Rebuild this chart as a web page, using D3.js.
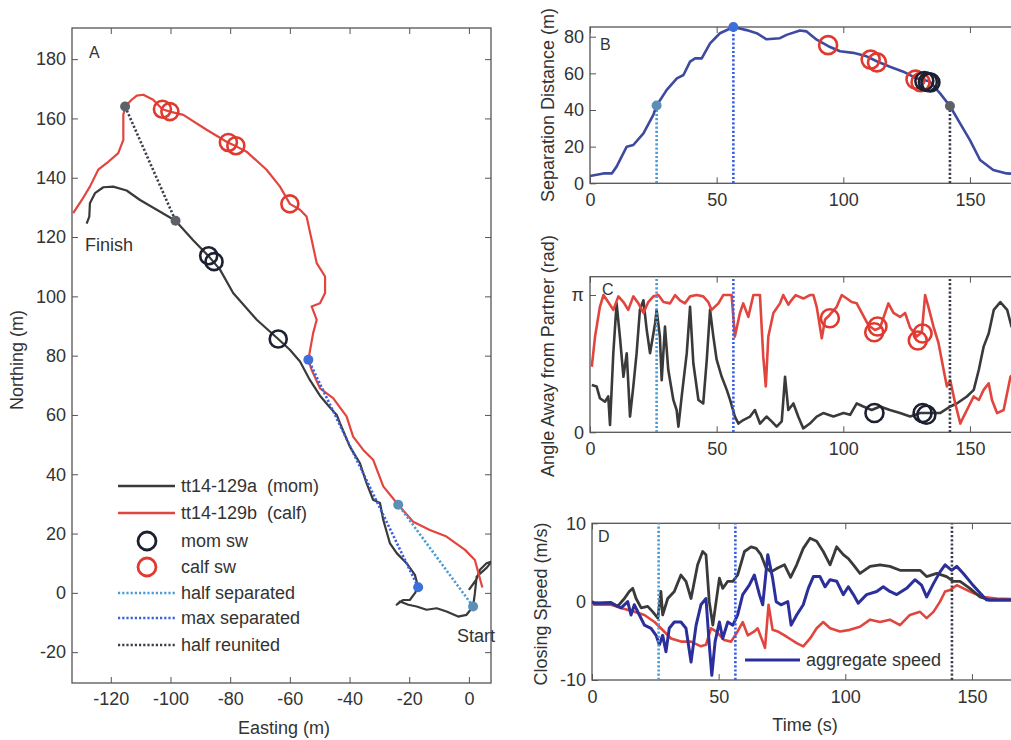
<!DOCTYPE html>
<html><head><meta charset="utf-8">
<script src="https://cdn.jsdelivr.net/npm/d3@7"></script>
<style>
html,body{margin:0;padding:0;background:#fff;}
text{font-family:"Liberation Sans",Arial,Helvetica,sans-serif;fill:#333;}
</style></head>
<body><svg id="c" width="1011" height="740"></svg>
<script>
// ---------- Panel A: tracks (easting, northing) ----------
const momTrack = [[0.0,1.0],[2.5,4.5],[3.7,7.8],[5.9,10.0],[7.6,10.6],[6.0,8.5],[2.6,5.5],[2.0,-0.1],[1.4,-4.6],[-0.8,-7.4],[-3.6,-8.0],[-7.5,-6.3],[-10.8,-5.2],[-14.2,-5.7],[-17.5,-4.6],[-20.3,-4.0],[-23.1,-2.9],[-24.2,-4.0],[-22.0,-2.4],[-19.8,-2.4],[-18.1,-0.1],[-17.0,1.9],[-18.1,6.1],[-20.9,10.0],[-24.2,13.4],[-26.5,16.8],[-28.7,24.6],[-29.8,30.3],[-32.1,31.4],[-34.3,37.0],[-36.5,43.7],[-39.9,49.3],[-43.2,57.2],[-44.3,60.0],[-47.0,63.0],[-49.9,66.5],[-53.3,71.8],[-56.6,78.0],[-60.0,82.0],[-63.9,85.6],[-71.1,92.1],[-79.0,101.1],[-83.4,109.0],[-87.1,113.4],[-92.4,118.9],[-98.3,125.5],[-104.6,129.2],[-110.2,132.5],[-114.7,135.7],[-119.2,137.0],[-122.5,136.8],[-125.3,134.8],[-127.0,131.4],[-127.2,126.9],[-128.1,124.5]];
const calfTrack = [[4.5,1.8],[2.0,11.1],[-1.3,14.5],[-7.5,19.0],[-13.1,21.2],[-18.7,24.0],[-23.7,29.7],[-28.7,35.9],[-32.1,44.9],[-35.4,48.2],[-38.8,52.7],[-41.0,59.5],[-45.5,65.7],[-49.9,69.0],[-52.7,75.2],[-53.8,78.6],[-52.2,87.6],[-51.0,92.1],[-52.7,96.6],[-49.9,97.7],[-48.2,101.1],[-48.2,106.7],[-51.0,111.2],[-52.7,119.1],[-54.4,126.9],[-56.6,129.2],[-60.0,131.2],[-63.3,137.0],[-67.8,142.7],[-74.5,148.8],[-77.8,150.5],[-80.8,151.9],[-87.9,156.2],[-95.7,161.2],[-100.2,162.3],[-102.7,163.1],[-105.8,166.3],[-109.1,168.0],[-111.3,167.7],[-113.0,166.3],[-115.2,164.0],[-115.8,161.2],[-115.8,152.8],[-117.5,148.3],[-121.4,144.9],[-124.2,142.7],[-127.0,137.0],[-129.7,132.5],[-132.6,128.1]];
const momSwA = [[-63.9,85.6],[-87.2,113.7],[-85.4,111.7]];
const calfSwA = [[-60.0,131.2],[-78.1,150.8],[-80.6,151.9],[-102.7,163.1],[-100.2,162.3]];
const halfSepA = [[1.4,-4.6],[-23.7,29.7]];
const maxSepA = [[-17.0,1.9],[-53.8,78.6]];
const halfReuA = [[-115.2,164.0],[-98.3,125.5]];
const eastTicks = [-120,-100,-80,-60,-40,-20,0];
const northTicks = [-20,0,20,40,60,80,100,120,140,160,180];
const legendLabels = ["tt14-129a  (mom)","tt14-129b  (calf)","mom sw","calf sw","half separated","max separated","half reunited"];

// ---------- Panel B: separation distance (time s, m) ----------
const sepDist = [[0,4.0],[5.3,5.4],[8.6,5.4],[10.5,9.1],[14.5,20.0],[17.1,20.9],[21.1,27.3],[25.0,37.3],[26.3,42.5],[30.3,51.0],[34.3,57.3],[36.9,59.1],[39.5,66.4],[41.5,68.2],[44.1,68.2],[47.4,76.4],[51.3,81.9],[56.6,85.3],[61.8,83.6],[65.8,81.9],[69.7,78.6],[75.0,79.2],[77.6,81.0],[82.9,83.4],[85.5,82.9],[89.5,78.4],[94.1,74.8],[98.7,72.1],[103.9,71.2],[109.2,69.3],[113.2,66.6],[118.4,63.6],[123.7,60.9],[128.9,57.3],[134.2,55.5],[138.2,49.1],[142.1,42.2],[146.1,32.7],[150.0,23.6],[154.0,12.7],[159.2,7.3],[164.5,5.4],[170,5.0]];
const calfSwB = [[94.0,75.4],[110.8,67.5],[113.3,66.0],[128.5,56.6],[130.5,55.2]];
const momSwB = [[132.0,55.8],[133.4,55.3],[134.4,55.0]];
const eventTimes = [26.3,56.6,142.1];          // half separated, max separated, half reunited
const eventSep = [42.5,85.3,42.2];
const timeTicks = [0,50,100,150];
const sepTicks = [0,20,40,60,80];

// ---------- Panel C: angle away from partner (time s, rad) ----------
const calfAngle = [[0.7,1.50],[2.0,2.19],[3.9,2.87],[5.3,3.14],[7.2,2.98],[9.2,2.80],[11.2,3.11],[13.2,2.98],[15.1,2.80],[17.1,3.11],[19.1,2.95],[21.1,2.73],[23.0,2.98],[25.0,3.11],[27.0,3.14],[29.0,2.98],[31.6,2.95],[33.6,3.14],[35.5,3.02],[37.5,2.95],[39.5,3.11],[42.1,3.14],[44.7,3.11],[46.7,2.98],[48.0,2.80],[50.7,2.95],[52.6,3.14],[55.9,3.14],[57.2,2.19],[59.2,2.73],[60.5,2.95],[62.5,2.64],[64.5,3.14],[67.1,3.14],[68.4,1.73],[69.4,1.05],[70.4,2.19],[72.4,2.73],[75.0,2.95],[76.3,3.14],[78.3,2.92],[79.5,3.02],[81.2,3.14],[84.2,3.06],[86.8,3.14],[88.2,3.14],[89.5,2.87],[91.5,2.15],[92.8,2.58],[94.7,2.69],[97.4,2.87],[99.4,3.14],[101.4,3.06],[103.3,2.98],[105.3,2.95],[107.3,2.73],[109.9,2.45],[112.5,2.34],[114.5,2.39],[116.5,2.73],[117.8,2.95],[119.8,2.73],[122.4,2.64],[124.4,2.73],[126.4,2.39],[129.0,2.19],[131.0,2.29],[132.3,3.14],[133.6,2.87],[135.6,2.42],[137.6,2.04],[139.6,1.43],[140.9,1.05],[142.2,1.19],[144.2,0.66],[146.2,0.20],[147.5,0.36],[149.5,0.59],[151.5,0.82],[153.5,0.74],[155.4,0.97],[157.4,1.12],[158.7,0.74],[160.7,0.44],[163.3,0.51],[166.0,1.27],[170,1.5]];
const momAngle = [[0.7,1.08],[2.6,1.05],[3.9,0.78],[5.9,0.70],[7.2,0.82],[7.9,0.17],[9.2,1.81],[10.5,2.95],[11.8,2.19],[13.2,1.27],[14.5,1.81],[15.8,0.36],[17.1,1.05],[18.4,1.81],[19.7,2.80],[21.1,3.02],[22.4,2.34],[23.7,1.81],[25.7,2.49],[26.3,2.80],[27.6,2.19],[28.3,1.19],[29.6,2.42],[30.9,1.43],[32.9,0.74],[34.2,0.51],[34.9,0.13],[36.2,0.82],[38.2,1.81],[39.5,2.87],[40.8,1.58],[42.8,0.74],[44.7,0.66],[46.1,1.66],[47.4,2.80],[48.7,2.19],[50.0,1.66],[52.0,1.27],[54.0,0.97],[55.3,0.74],[57.2,0.36],[58.6,0.20],[60.5,0.28],[63.2,0.36],[65.1,0.51],[67.1,0.20],[69.7,0.36],[71.7,0.25],[73.7,0.13],[75.7,0.25],[77.0,1.27],[78.3,0.51],[80.3,0.66],[82.2,0.36],[84.2,0.09],[86.8,0.20],[89.5,0.36],[92.1,0.44],[96.1,0.36],[100.1,0.44],[102.7,0.40],[105.3,0.66],[107.9,0.59],[111.2,0.51],[114.5,0.59],[118.4,0.51],[122.4,0.44],[126.4,0.36],[130.3,0.44],[134.2,0.44],[138.2,0.44],[142.2,0.59],[144.8,0.66],[148.8,0.82],[151.5,0.97],[153.5,1.43],[155.4,1.96],[157.4,2.26],[159.4,2.80],[162.0,2.98],[164.7,2.80],[166.4,2.42],[170,2.6]];
const calfSwC = [[94.7,2.61],[112.2,2.29],[113.5,2.42],[129.4,2.10],[131.3,2.26]];
const momSwC = [[112.3,0.44],[131.3,0.44],[132.8,0.40]];
const angleTicks = [0,Math.PI];
const angleTickLabels = ["0","π"];

// ---------- Panel D: closing speed (time s, m/s) ----------
const momSpeed = [[0,0],[0.9,-0.2],[7.5,-0.1],[10.1,-0.6],[12.8,0.4],[14.7,1.3],[16.1,1.7],[17.4,0.4],[19.4,-0.8],[22.0,-0.6],[24.0,-1.3],[26.0,-2.1],[27.2,1.3],[27.9,-1.7],[29.9,0.4],[32.5,1.3],[35.1,3.4],[37.1,2.6],[39.1,0.4],[41.7,4.7],[43.7,6.4],[45.0,6.0],[46.3,0.0],[47.7,-3.0],[49.0,0.0],[50.3,3.0],[51.6,1.7],[53.6,2.6],[55.6,2.6],[57.5,3.4],[60.2,6.4],[62.8,7.0],[64.8,6.8],[66.7,6.0],[68.7,4.3],[70.7,3.8],[73.3,4.3],[76.0,4.7],[78.4,3.1],[80.8,4.7],[83.4,6.8],[86.1,8.1],[88.7,7.7],[91.3,6.4],[94.0,4.7],[96.6,7.0],[99.2,6.0],[101.2,5.5],[103.2,4.7],[105.8,3.6],[109.8,4.5],[113.7,4.7],[117.6,4.5],[121.6,4.0],[125.5,4.0],[129.5,4.0],[132.1,3.2],[136.1,3.6],[140.0,3.2],[142.7,2.6],[145.3,2.6],[149.2,1.7],[153.2,0.6],[157.1,0.2],[170,0.2]];
const calfSpeed = [[0,0],[0.9,-0.4],[7.5,-0.4],[11.5,-0.8],[16.7,-1.3],[20.7,-1.7],[24.7,-2.6],[27.2,-3.4],[31.2,-4.7],[35.1,-5.1],[39.1,-5.1],[43.0,-5.7],[45.0,-5.5],[47.0,-3.4],[49.0,-3.8],[52.2,-4.9],[54.9,-5.1],[57.5,-3.8],[59.5,-2.6],[61.5,-4.3],[64.1,-3.8],[65.4,-3.4],[67.4,-5.1],[68.3,-5.9],[69.7,-0.4],[71.3,-3.6],[73.3,-3.8],[76.0,-4.3],[78.4,-4.8],[80.8,-5.3],[83.4,-5.7],[86.1,-4.7],[88.7,-3.4],[91.3,-2.6],[94.0,-3.4],[97.9,-3.8],[101.8,-3.6],[105.8,-3.2],[109.8,-2.3],[113.7,-2.6],[117.6,-2.3],[121.6,-3.0],[125.5,-1.7],[129.5,-1.3],[132.1,-2.1],[134.8,-1.3],[137.4,0.0],[139.4,1.3],[141.4,1.5],[144.0,2.1],[146.6,1.7],[150.5,1.1],[154.5,0.6],[159.8,0.4],[170,0.3]];
const aggSpeed = [[0,0],[0.9,-0.2],[7.5,-0.2],[11.5,-0.8],[14.1,0.0],[15.4,-1.7],[16.7,-0.4],[18.7,-1.7],[20.7,-3.0],[23.3,-3.4],[25.3,-4.3],[26.6,-5.5],[27.9,-4.3],[29.2,-6.4],[30.5,-3.4],[32.5,-2.6],[35.1,-2.6],[37.1,-3.4],[39.1,-7.7],[41.1,-3.0],[43.0,-0.4],[45.0,0.4],[46.3,-5.5],[47.3,-9.4],[48.6,-5.1],[50.3,-2.6],[51.6,-4.7],[53.6,-2.6],[55.6,-3.0],[57.5,-1.7],[59.5,0.9],[62.1,2.1],[64.1,3.4],[66.1,0.9],[67.4,-0.4],[69.4,6.0],[71.3,3.0],[72.7,0.0],[74.6,-0.4],[77.3,0.0],[78.6,-3.0],[80.8,-1.7],[83.4,-0.4],[85.4,1.7],[87.4,3.2],[90.0,3.2],[92.0,1.9],[94.0,2.8],[96.6,2.6],[99.2,0.9],[101.2,1.9],[103.2,0.9],[105.1,-0.2],[108.4,0.9],[112.4,1.3],[115.0,1.9],[117.6,1.3],[120.3,0.9],[124.2,1.7],[127.5,2.8],[130.1,2.1],[132.1,0.6],[134.8,2.3],[137.4,3.8],[139.4,4.7],[142.0,4.0],[144.0,4.5],[146.6,3.6],[149.9,2.3],[153.2,1.1],[155.8,0.2],[170,0.2]];
const speedTicks = [-10,0,10];

// ---------- styles ----------
const C = {mom:"#3a3a3a", calf:"#e2453e", momCirc:"#1d2030", calfCirc:"#e03a30", sepLine:"#3d4aa0", agg:"#2b2f9c",
           halfSep:"#4b9bd6", maxSep:"#3a5fe0", halfReu:"#3b3f4c", dotHalfSep:"#5b8fb8", dotMaxSep:"#3d6fdb", dotHalfReu:"#5c6268", frame:"#555"};
const FONT = 18;
const num = d => String(d);   // plain hyphen-minus like the original
const svg = d3.select("#c");
const defs = svg.append("defs");

function frame(g, x, y, xt, yt, xfmt, yfmt, padB) {
  const [x0,x1] = x.range(), [y0,y1] = y.range();
  const style = sel => { sel.select(".domain").remove(); sel.attr("font-size",FONT).attr("font-family",null);
    sel.selectAll(".tick line").attr("stroke",C.frame); sel.selectAll(".tick text").attr("fill","#333"); };
  g.append("g").attr("transform",`translate(0,${y0})`).call(d3.axisBottom(x).tickValues(xt).tickSize(-6).tickPadding(padB).tickFormat(xfmt)).call(style);
  g.append("g").attr("transform",`translate(0,${y1})`).call(d3.axisTop(x).tickValues(xt).tickSize(-6).tickFormat("")).call(style);
  g.append("g").attr("transform",`translate(${x0},0)`).call(d3.axisLeft(y).tickValues(yt).tickSize(-6).tickPadding(6).tickFormat(yfmt)).call(style);
  g.append("g").attr("transform",`translate(${x1},0)`).call(d3.axisRight(y).tickValues(yt).tickSize(-6).tickFormat("")).call(style);
  g.append("rect").attr("x",x0).attr("y",y1).attr("width",x1-x0).attr("height",y0-y1)
    .attr("fill","none").attr("stroke",C.frame).attr("stroke-width",1.3);
}
function clip(id, x, y) {
  const [x0,x1] = x.range(), [y0,y1] = y.range();
  defs.append("clipPath").attr("id",id).append("rect").attr("x",x0).attr("y",y1).attr("width",x1-x0).attr("height",y0-y1);
}
function path(g, data, x, y, color, w, dash) {
  const p = g.append("path").datum(data).attr("fill","none").attr("stroke",color).attr("stroke-width",w)
    .attr("stroke-linejoin","round").attr("d", d3.line().x(d=>x(d[0])).y(d=>y(d[1])));
  if (dash) p.attr("stroke-dasharray",dash);
  return p;
}
function circles(g, data, x, y, color, r) {
  g.selectAll(null).data(data).join("circle").attr("cx",d=>x(d[0])).attr("cy",d=>y(d[1])).attr("r",r)
    .attr("fill","none").attr("stroke",color).attr("stroke-width",2.6);
}
function dot(g, px, py, color) { g.append("circle").attr("cx",px).attr("cy",py).attr("r",5).attr("fill",color); }
function label(txt, x, y, rot, anchor, size) {
  const t = svg.append("text").attr("x",x).attr("y",y).attr("font-size",size||FONT).attr("text-anchor",anchor||"middle").text(txt);
  if (rot) t.attr("transform",`rotate(${rot},${x},${y})`);
  return t;
}

// ================= Panel A =================
const xA = d3.scaleLinear().domain([-133,7.4]).range([72,491]);
const yA = d3.scaleLinear().domain([-30.4,190.5]).range([683,28]);
const gA = svg.append("g");
clip("clipA", xA, yA);
frame(gA, xA, yA, eastTicks, northTicks, num, num, 9);
const pA = gA.append("g").attr("clip-path","url(#clipA)");
path(pA, momTrack, xA, yA, C.mom, 2.2);
path(pA, calfTrack, xA, yA, C.calf, 2.2);
path(pA, maxSepA, xA, yA, C.maxSep, 2.6, "2.2,2");
path(pA, halfSepA, xA, yA, C.halfSep, 2.6, "2.2,2");
path(pA, halfReuA, xA, yA, C.halfReu, 2.6, "2.2,2");
circles(pA, momSwA, xA, yA, C.momCirc, 8.5);
circles(pA, calfSwA, xA, yA, C.calfCirc, 8.5);
dot(pA, xA(halfSepA[0][0]), yA(halfSepA[0][1]), C.dotHalfSep);
dot(pA, xA(halfSepA[1][0]), yA(halfSepA[1][1]), C.dotHalfSep);
dot(pA, xA(maxSepA[0][0]), yA(maxSepA[0][1]), C.dotMaxSep);
dot(pA, xA(maxSepA[1][0]), yA(maxSepA[1][1]), C.dotMaxSep);
dot(pA, xA(halfReuA[0][0]), yA(halfReuA[0][1]), C.dotHalfReu);
dot(pA, xA(halfReuA[1][0]), yA(halfReuA[1][1]), C.dotHalfReu);
label("A", 89, 58, 0, "start", 16);
label("Finish", 85, 251, 0, "start");
label("Start", 457, 642, 0, "start");
label("Easting (m)", 284, 734);
label("Northing (m)", 23, 360, -90);
// legend
const legY = [486,513,541,567,593,618,645];
const legSpecs = [["line",C.mom,null],["line",C.calf,null],["circ",C.momCirc],["circ",C.calfCirc],
                  ["line",C.halfSep,"2.2,2"],["line",C.maxSep,"2.2,2"],["line",C.halfReu,"2.2,2"]];
legendLabels.forEach((t,i)=>{
  const s = legSpecs[i], yy = legY[i];
  if (s[0]==="line") {
    const l = svg.append("line").attr("x1",118).attr("x2",175).attr("y1",yy).attr("y2",yy).attr("stroke",s[1]).attr("stroke-width",s[2]?2.6:2.4);
    if (s[2]) l.attr("stroke-dasharray",s[2]);
  } else {
    svg.append("circle").attr("cx",147).attr("cy",yy).attr("r",9).attr("fill","none").attr("stroke",s[1]).attr("stroke-width",2.8);
  }
  label(t, 181, yy, 0, "start").attr("dominant-baseline","central").style("white-space","pre");
});

// ================= Panel B =================
const xB = d3.scaleLinear().domain([0,170]).range([590,590+170*2.533]);
const yB = d3.scaleLinear().domain([0,85.3]).range([183.3,27]);
const gB = svg.append("g");
clip("clipB", xB, yB);
frame(gB, xB, yB, timeTicks, sepTicks, num, num, 10);
const pB = gB.append("g").attr("clip-path","url(#clipB)");
const evColors = [C.halfSep, C.maxSep, C.halfReu], evDots = [C.dotHalfSep, C.dotMaxSep, C.dotHalfReu];
eventTimes.forEach((t,i)=>path(pB, [[t,0],[t,eventSep[i]]], xB, yB, evColors[i], 2.6, "2.2,2"));
path(pB, sepDist, xB, yB, C.sepLine, 2.6);
circles(pB, calfSwB, xB, yB, C.calfCirc, 9);
circles(pB, momSwB, xB, yB, C.momCirc, 9);
eventTimes.forEach((t,i)=>dot(gB, xB(t), yB(eventSep[i]), evDots[i]));
label("B", 600, 50, 0, "start", 16);
label("Separation Distance (m)", 554, 105, -90);

// ================= Panel C =================
const xC = d3.scaleLinear().domain([0,170]).range([590,590+170*2.533]);
const yC = d3.scaleLinear().domain([0,3.56]).range([432.3,276.7]);
const gC = svg.append("g");
clip("clipC", xC, yC);
frame(gC, xC, yC, timeTicks, angleTicks, num, (d,i)=>angleTickLabels[i], 10);
const pC = gC.append("g").attr("clip-path","url(#clipC)");
path(pC, momAngle, xC, yC, C.mom, 2.6);
path(pC, calfAngle, xC, yC, C.calf, 2.6);
eventTimes.forEach((t,i)=>path(pC, [[t,0],[t,3.56]], xC, yC, evColors[i], 2.6, "2.2,2"));
circles(pC, calfSwC, xC, yC, C.calfCirc, 9);
circles(pC, momSwC, xC, yC, C.momCirc, 9);
label("C", 602, 295, 0, "start", 16);
label("Angle Away from Partner (rad)", 554, 356, -90);

// ================= Panel D =================
const xD = d3.scaleLinear().domain([0,170]).range([592,592+170*2.533]);
const yD = d3.scaleLinear().domain([-10,10]).range([680,523.3]);
const gD = svg.append("g");
clip("clipD", xD, yD);
frame(gD, xD, yD, timeTicks, speedTicks, num, num, 10);
const pD = gD.append("g").attr("clip-path","url(#clipD)");
path(pD, calfSpeed, xD, yD, C.calf, 2.6);
path(pD, momSpeed, xD, yD, C.mom, 2.8);
path(pD, aggSpeed, xD, yD, C.agg, 3);
eventTimes.forEach((t,i)=>path(pD, [[t,-10],[t,10]], xD, yD, evColors[i], 2.6, "2.2,2"));
svg.append("line").attr("x1",745).attr("x2",800).attr("y1",660).attr("y2",660).attr("stroke",C.agg).attr("stroke-width",2.8);
label("aggregate speed", 806, 660, 0, "start").attr("dominant-baseline","central");
label("D", 598, 542, 0, "start", 16);
label("Closing Speed (m/s)", 547, 604, -90);
label("Time (s)", 805, 731);
</script></body></html>
